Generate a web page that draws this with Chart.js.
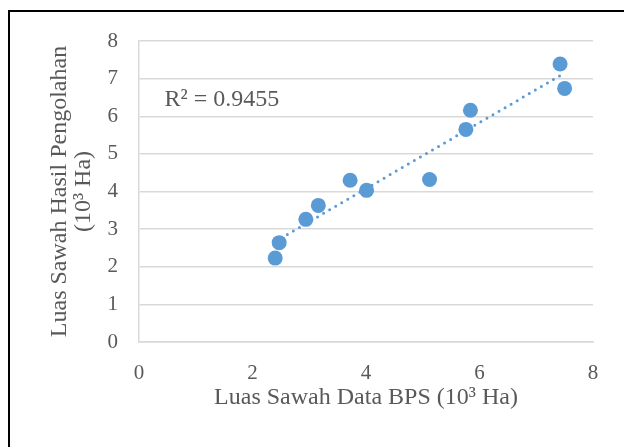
<!DOCTYPE html>
<html>
<head>
<meta charset="utf-8">
<script src="https://cdn.jsdelivr.net/npm/chart.js@4.4.1/dist/chart.umd.min.js"></script>
<style>
html,body{margin:0;padding:0;background:#fff;}
#wrap{position:relative;width:624px;height:447px;}
</style>
</head>
<body>
<div id="wrap"><canvas id="c" width="624" height="447"></canvas></div>
<script>
const bpsX = [2.40, 2.47, 2.94, 3.16, 3.72, 4.01, 5.12, 5.76, 5.84, 7.42, 7.50];
const hasilY = [2.23, 2.64, 3.26, 3.63, 4.30, 4.03, 4.32, 5.65, 6.16, 7.39, 6.74];
const trendX = [2.40, 7.50];
const trendY = [2.67, 7.15];
const r2Label = 'R² = 0.9455';
const xTicks = [0, 2, 4, 6, 8];
const yTicks = [0, 1, 2, 3, 4, 5, 6, 7, 8];
const xTitle = 'Luas Sawah Data BPS (10³ Ha)';
const yTitle = ['Luas Sawah Hasil Pengolahan', '(10³ Ha)'];

const FONT = '"Liberation Serif", "Times New Roman", serif';
const GREY = '#595959';

const framePlugin = {
  id: 'frame',
  afterDraw(chart) {
    const ctx = chart.ctx;
    ctx.save();
    ctx.strokeStyle = '#000';
    ctx.lineWidth = 2;
    ctx.beginPath();
    ctx.moveTo(9, 447);
    ctx.lineTo(9, 11);
    ctx.lineTo(624, 11);
    ctx.stroke();
    const xs = chart.scales.x, ys = chart.scales.y;
    ctx.fillStyle = GREY;
    ctx.font = '24px ' + FONT;
    ctx.textBaseline = 'middle';
    ctx.textAlign = 'left';
    ctx.fillText(r2Label, xs.getPixelForValue(0.45), ys.getPixelForValue(6.43));
    ctx.restore();
  }
};

new Chart(document.getElementById('c'), {
  type: 'scatter',
  data: {
    datasets: [
      {
        label: 'trend',
        type: 'line',
        data: trendX.map((x, i) => ({x: x, y: trendY[i]})),
        borderColor: '#5b9bd5',
        borderWidth: 3,
        borderDash: [0, 7],
        borderCapStyle: 'round',
        pointRadius: 0,
        fill: false,
        order: 2
      },
      {
        label: 'data',
        data: bpsX.map((x, i) => ({x: x, y: hasilY[i]})),
        backgroundColor: '#5b9bd5',
        borderColor: '#5b9bd5',
        pointRadius: 7.5,
        pointBorderWidth: 0,
        order: 1
      }
    ]
  },
  options: {
    responsive: false,
    animation: false,
    layout: {padding: {left: 48, right: 31, top: 41, bottom: 0}},
    plugins: {legend: {display: false}, tooltip: {enabled: false}},
    scales: {
      x: {
        type: 'linear', min: 0, max: 8,
        afterBuildTicks(s) { s.ticks = xTicks.map(v => ({value: v})); },
        afterFit(s) { s.height = 105; },
        grid: {display: false, drawTicks: false},
        border: {display: true, color: '#d9d9d9', width: 1.5},
        ticks: {color: GREY, font: {family: FONT, size: 21}, padding: 19},
        title: {display: true, text: xTitle, color: GREY, font: {family: FONT, size: 24, lineHeight: 1.0}, padding: {top: 0, bottom: 37}}
      },
      y: {
        type: 'linear', min: 0, max: 8,
        afterBuildTicks(s) { s.ticks = yTicks.map(v => ({value: v})); },
        afterFit(s) { s.width = 91; },
        grid: {color: '#d9d9d9', lineWidth: 1.5, drawTicks: false},
        border: {display: true, color: '#d9d9d9', width: 1.5},
        ticks: {color: GREY, font: {family: FONT, size: 21}, padding: 21},
        title: {display: true, text: yTitle, color: GREY, font: {family: FONT, size: 24, lineHeight: 1.0}, padding: {top: 0, bottom: 0}}
      }
    }
  },
  plugins: [framePlugin]
});
</script>
</body>
</html>
